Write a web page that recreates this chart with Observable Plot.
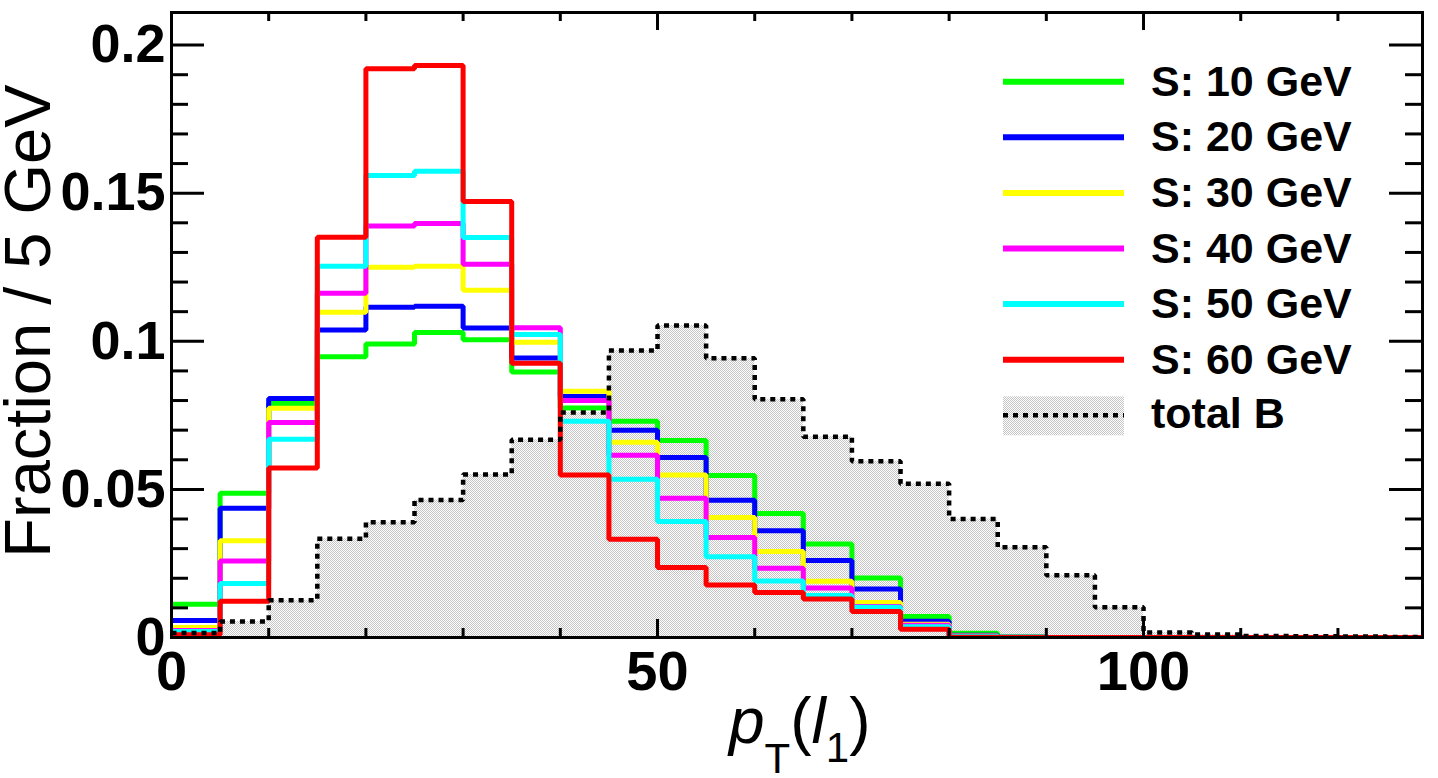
<!DOCTYPE html>
<html>
<head>
<meta charset="utf-8">
<script src="https://cdn.jsdelivr.net/npm/d3@7"></script>
<script src="https://cdn.jsdelivr.net/npm/@observablehq/plot@0.6"></script>
<style>
  body { margin: 0; background: #fff; }
  #chart svg { display: block; }
</style>
</head>
<body>
<div id="chart"></div>
<script>
// ---- data (bin left edges, 5 GeV bins) ----
const binEdges = [0,5,10,15,20,25,30,35,40,45,50,55,60,65,70,75,80,85,90,95,100,105,110,115,120,125];
const binWidth = 5;

const sig10 = [0.0112,0.0487,0.0790,0.0948,0.0991,0.1030,0.1005,0.0896,0.0775,0.0730,0.0665,0.0547,0.0419,0.0316,0.0201,0.0071,0.0014,0.0002,0,0,0,0,0,0,0,0];
const sig20 = [0.0057,0.0436,0.0807,0.1038,0.1115,0.1118,0.1045,0.0944,0.0814,0.0700,0.0608,0.0463,0.0360,0.0260,0.0164,0.0055,0.0008,0.0001,0,0,0,0,0,0,0,0];
const sig30 = [0.0034,0.0327,0.0774,0.1098,0.1250,0.1253,0.1172,0.0997,0.0831,0.0659,0.0549,0.0405,0.0290,0.0190,0.0118,0.0045,0.0005,0,0,0,0,0,0,0,0,0];
const sig40 = [0.0024,0.0258,0.0726,0.1162,0.1389,0.1398,0.1260,0.1046,0.0800,0.0615,0.0470,0.0338,0.0234,0.0167,0.0105,0.0041,0.0004,0,0,0,0,0,0,0,0,0];
const sig50 = [0.0020,0.0182,0.0669,0.1253,0.1560,0.1574,0.1350,0.1023,0.0730,0.0534,0.0392,0.0273,0.0191,0.0142,0.0102,0.0036,0.0003,0,0,0,0,0,0,0,0,0];
const sig60 = [0.0009,0.0122,0.0572,0.1351,0.1920,0.1931,0.1472,0.0926,0.0549,0.0332,0.0236,0.0177,0.0152,0.0130,0.0088,0.0028,0.0001,0,0,0,0,0,0,0,0,0];
const totalB = [0.0015,0.0054,0.0126,0.0333,0.0389,0.0464,0.0550,0.0668,0.0760,0.0969,0.1053,0.0943,0.0804,0.0678,0.0595,0.0519,0.0400,0.0305,0.0210,0.0102,0.0017,0.0010,0.0005,0.0004,0.0003,0.0002];

const seriesLabels = ["S: 10 GeV","S: 20 GeV","S: 30 GeV","S: 40 GeV","S: 50 GeV","S: 60 GeV"];
const seriesColors = ["#00ff00","#0000ff","#ffff00","#ff00ff","#00ffff","#ff0000"];
const seriesValues = [sig10, sig20, sig30, sig40, sig50, sig60];
const bgLabel = "total B";

const xMajorTicks = [0,50,100];
const xMinorTicks = [10,20,30,40,60,70,80,90,110,120];
const yMajorTicks = [0,0.05,0.1,0.15,0.2];
const yMinorTicks = [0.01,0.02,0.03,0.04,0.06,0.07,0.08,0.09,0.11,0.12,0.13,0.14,0.16,0.17,0.18,0.19];

const yTitle = "Fraction / 5 GeV";

// ---- layout ----
const W = 1438, H = 778;
const mL = 171, mR = 16, mT = 12, mB = 141;
const plotW = W - mL - mR, plotH = H - mT - mB;
const FONT = "'Liberation Sans', Arial, Helvetica, sans-serif";

function stepData(values) {
  const pts = binEdges.map((x, i) => ({x, y: values[i]}));
  pts.push({x: binEdges[binEdges.length - 1] + binWidth, y: values[values.length - 1]});
  return pts;
}

const bgData = stepData(totalB);
const lineStyle = {curve: "step-after", strokeLinejoin: "miter", strokeLinecap: "butt", clip: true};

const tickStyle = {stroke: "black", strokeWidth: 3};

const plot = Plot.plot({
  width: W, height: H,
  marginLeft: mL, marginRight: mR, marginTop: mT, marginBottom: mB,
  x: {domain: [0, 128.7], label: null},
  y: {domain: [0, 0.211], label: null},
  style: {background: "#fff", fontFamily: FONT, overflow: "visible"},
  marks: [
    Plot.areaY(bgData, {x: "x", y: "y", curve: "step-after", fill: "url(#hatch)", clip: true}),
    ...seriesValues.map((vals, i) =>
      Plot.line(stepData(vals), {x: "x", y: "y", stroke: seriesColors[i], strokeWidth: 5, ...lineStyle})),
    Plot.line(bgData, {x: "x", y: "y", stroke: "black", strokeWidth: 4.5, strokeDasharray: "5,5", ...lineStyle}),
    // ticks (inside frame, ROOT style)
    Plot.tickY(yMajorTicks, {y: d => d, insetRight: plotW - 33, ...tickStyle}),
    Plot.tickY(yMinorTicks, {y: d => d, insetRight: plotW - 17, ...tickStyle}),
    Plot.tickY(yMajorTicks, {y: d => d, insetLeft: plotW - 33, ...tickStyle}),
    Plot.tickY(yMinorTicks, {y: d => d, insetLeft: plotW - 17, ...tickStyle}),
    Plot.tickX(xMajorTicks, {x: d => d, insetTop: plotH - 18, ...tickStyle}),
    Plot.tickX(xMinorTicks, {x: d => d, insetTop: plotH - 9, ...tickStyle}),
    Plot.tickX(xMajorTicks, {x: d => d, insetBottom: plotH - 18, ...tickStyle}),
    Plot.tickX(xMinorTicks, {x: d => d, insetBottom: plotH - 9, ...tickStyle}),
    // tick labels
    Plot.axisY(yMajorTicks, {anchor: "left", tickSize: 0, tickPadding: 6, fontSize: 54, fontWeight: "bold",
      tickFormat: d => String(+d.toFixed(2)), label: null, fill: "black"}),
    Plot.axisX(xMajorTicks, {anchor: "bottom", tickSize: 0, tickPadding: 13, fontSize: 56, fontWeight: "bold",
      tickFormat: d => String(d), label: null, fill: "black"}),
    Plot.frame({stroke: "black", strokeWidth: 3})
  ]
});

const svg = d3.select(plot);

// hatch pattern for background fill
const defs = svg.insert("defs", ":first-child");
const pat = defs.append("pattern").attr("id", "hatch").attr("patternUnits", "userSpaceOnUse")
  .attr("width", 2).attr("height", 2);
pat.append("rect").attr("width", 2).attr("height", 2).attr("fill", "#ffffff");
pat.append("rect").attr("x", 0).attr("y", 0).attr("width", 1).attr("height", 1).attr("fill", "#c4c4c4");
pat.append("rect").attr("x", 1).attr("y", 1).attr("width", 1).attr("height", 1).attr("fill", "#c4c4c4");

// y-axis title
svg.append("text")
  .attr("transform", "translate(50,321) rotate(-90)")
  .attr("text-anchor", "middle")
  .attr("font-family", FONT)
  .attr("font-size", 65)
  .attr("fill", "black")
  .text(yTitle);

// x-axis title: p_T(l_1)
const xt = svg.append("text")
  .attr("x", 729).attr("y", 743)
  .attr("text-anchor", "start")
  .attr("font-family", FONT)
  .attr("font-size", 64)
  .attr("fill", "black");
xt.append("tspan").attr("font-style", "italic").text("p");
xt.append("tspan").attr("font-size", 42).attr("dy", 30).text("T");
xt.append("tspan").attr("dy", -30).text("(");
xt.append("tspan").attr("font-style", "italic").text("l");
xt.append("tspan").attr("font-size", 42).attr("dy", 19).text("1");
xt.append("tspan").attr("dy", -19).text(")");

// legend
const legX1 = 1003, legX2 = 1124, legTextX = 1151, legY0 = 81.7, legDy = 55.6;
const leg = svg.append("g").attr("font-family", FONT).attr("font-weight", "bold").attr("font-size", 43)
  .attr("text-anchor", "start");
seriesLabels.forEach((lab, i) => {
  const y = legY0 + i * legDy;
  leg.append("line").attr("x1", legX1).attr("x2", legX2).attr("y1", y).attr("y2", y)
    .attr("stroke", seriesColors[i]).attr("stroke-width", 6);
  leg.append("text").attr("x", legTextX).attr("y", y + 14).attr("fill", "black").text(lab);
});
{
  const y = legY0 + seriesLabels.length * legDy;
  leg.append("rect").attr("x", legX1).attr("y", y - 19).attr("width", legX2 - legX1).attr("height", 39)
    .attr("fill", "url(#hatch)");
  leg.append("line").attr("x1", legX1).attr("x2", legX2).attr("y1", y).attr("y2", y)
    .attr("stroke", "black").attr("stroke-width", 4.5).attr("stroke-dasharray", "5,5");
  leg.append("text").attr("x", legTextX).attr("y", y + 13).attr("fill", "black").text(bgLabel);
}

document.getElementById("chart").appendChild(plot);
</script>
</body>
</html>
